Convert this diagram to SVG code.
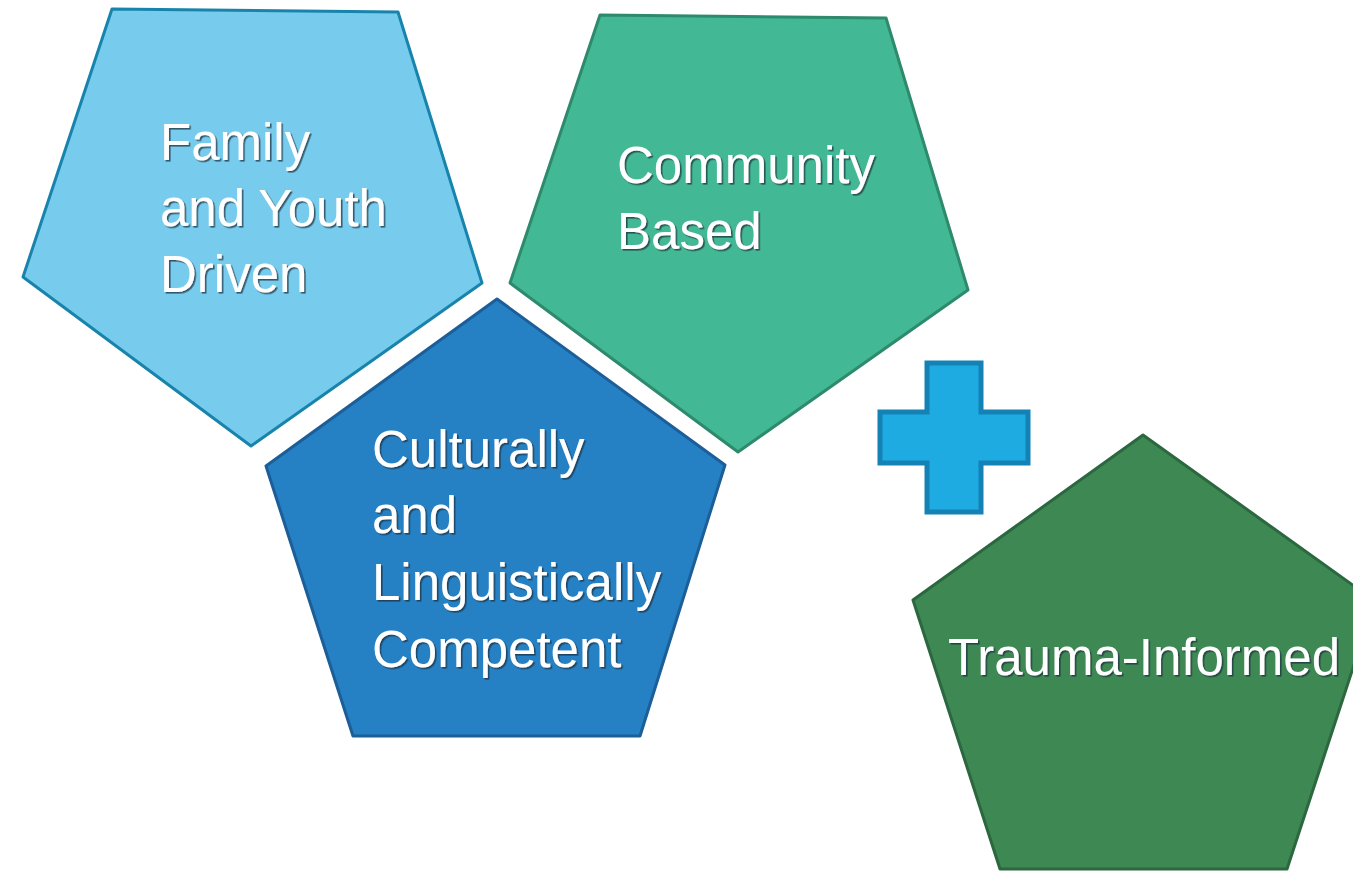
<svg xmlns="http://www.w3.org/2000/svg" width="1353" height="872" viewBox="0 0 1353 872">
  <defs>
    <filter id="txtShadow" x="-5%" y="-5%" width="110%" height="115%">
      <feDropShadow dx="1.6" dy="1.6" stdDeviation="0.5" flood-color="#1c3340" flood-opacity="0.75"/>
    </filter>
  </defs>
  <style>
    .pent { stroke-width: 3; stroke-linejoin: round; }
    .label { font-family: "Liberation Sans", Arial, sans-serif; font-size: 51px; fill: #ffffff; filter: url(#txtShadow); }
  </style>
  <rect width="1353" height="872" fill="#ffffff"/>

  <g id="family-youth-driven">
    <polygon class="pent" points="112,9 398,12 482,283 251,446 23,277" fill="#77CCEE" stroke="#1884AC"/>
    <text class="label" x="160" y="160">Family</text>
    <text class="label" x="160" y="226">and Youth</text>
    <text class="label" x="160" y="292">Driven</text>
  </g>

  <g id="community-based">
    <polygon class="pent" points="600,15 886,18 968,290 738,452 510,283" fill="#43B894" stroke="#2E8A6C"/>
    <text class="label" x="617" y="183">Community</text>
    <text class="label" x="617" y="249">Based</text>
  </g>

  <g id="culturally-linguistically-competent">
    <polygon class="pent" points="497,299 725,465 640,736 353,736 266,466" fill="#2580C4" stroke="#1B5E98"/>
    <text class="label" x="372" y="467">Culturally</text>
    <text class="label" x="372" y="533">and</text>
    <text class="label" x="372" y="600">Linguistically</text>
    <text class="label" x="372" y="667">Competent</text>
  </g>

  <g id="plus">
    <path d="M927,363 H981 V412 H1028 V463 H981 V512 H927 V463 H880 V412 H927 Z" fill="#1EABE1" stroke="#1582B5" stroke-width="5" stroke-linejoin="miter"/>
  </g>

  <g id="trauma-informed">
    <polygon class="pent" points="1143,435 1375,601 1287,869 1000,869 913,600" fill="#3E8853" stroke="#2B6840"/>
    <text class="label" x="948" y="675">Trauma-Informed</text>
  </g>

  <g id="connectors"></g>
</svg>
